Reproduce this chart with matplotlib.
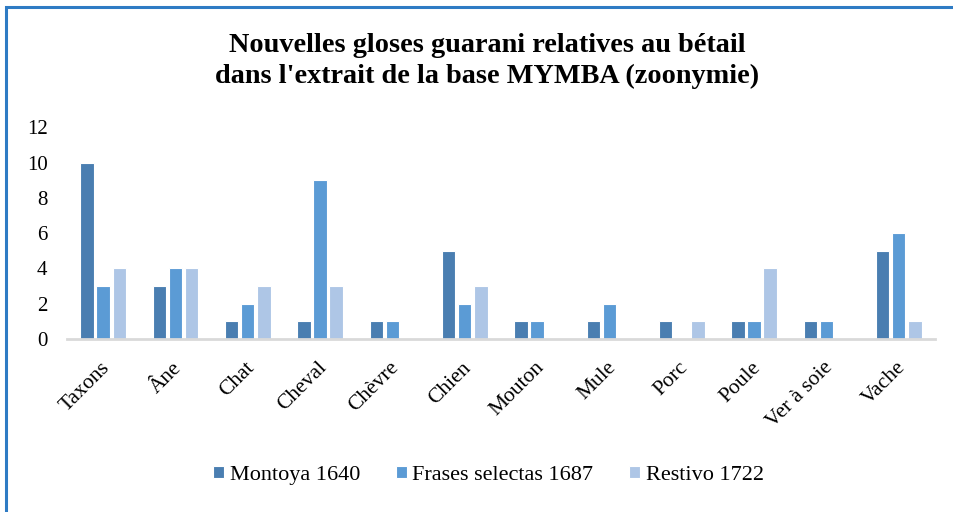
import matplotlib.pyplot as plt
import numpy as np
from matplotlib.patches import Rectangle

plt.rcParams['font.family'] = ['Liberation Serif', 'DejaVu Serif']

categories = ['Taxons', 'Âne', 'Chat', 'Cheval', 'Chèvre', 'Chien',
              'Mouton', 'Mule', 'Porc', 'Poule', 'Ver à soie', 'Vache']
series_names = ['Montoya 1640', 'Frases selectas 1687', 'Restivo 1722']
montoya = [10, 3, 1, 1, 1, 5, 1, 1, 1, 1, 1, 5]
frases = [3, 4, 2, 9, 1, 2, 1, 2, 0, 1, 1, 6]
restivo = [4, 4, 3, 3, 0, 3, 0, 0, 1, 4, 0, 1]
colors = ['#4a7eb1', '#5b9bd5', '#aec6e6']

fig = plt.figure(figsize=(9.54, 5.12), dpi=100)
ax = fig.add_axes([0.0702, 0.338, 0.9098, 0.413])

x = np.arange(len(categories))
w = 0.185
step = 0.222
for i, (vals, name) in enumerate(zip([montoya, frases, restivo], series_names)):
    ax.bar(x + (i - 1) * step, vals, width=w, color=colors[i],
           edgecolor='white', linewidth=0.8, label=name, zorder=2)

ax.set_xlim(-0.5, len(categories) - 0.5)
ax.set_ylim(0, 12)
ax.set_yticks(range(0, 13, 2))
ax.tick_params(axis='y', length=0, pad=14, labelsize=15)
ax.tick_params(axis='x', length=0, pad=14)
ax.set_xticks(x - 0.04)
ax.set_xticklabels(categories, rotation=45, ha='right',
                   rotation_mode='anchor', fontsize=15.5)
for s in ['top', 'right', 'left']:
    ax.spines[s].set_visible(False)
ax.spines['bottom'].set_color('#d9d9d9')
ax.spines['bottom'].set_linewidth(2)
ax.spines['bottom'].set_zorder(3)

fig.text(0.511, 0.88, "Nouvelles gloses guarani relatives au bétail\n"
         "dans l'extrait de la base MYMBA (zoonymie)",
         ha='center', va='center', fontsize=20.3, fontweight='bold',
         linespacing=1.3)

leg = fig.legend(loc='center', bbox_to_anchor=(0.512, 0.072), ncol=3,
                 frameon=False, fontsize=16, handlelength=0.5,
                 handleheight=0.5, handletextpad=0.25, columnspacing=1.6)

# cadre bleu du graphique
fig.patches.append(Rectangle((0.0068, -0.05), 1.1, 1.0354,
                             transform=fig.transFigure, fill=False,
                             edgecolor='#2e7bc4', linewidth=2.2))

fig.savefig('out.png', dpi=100)
